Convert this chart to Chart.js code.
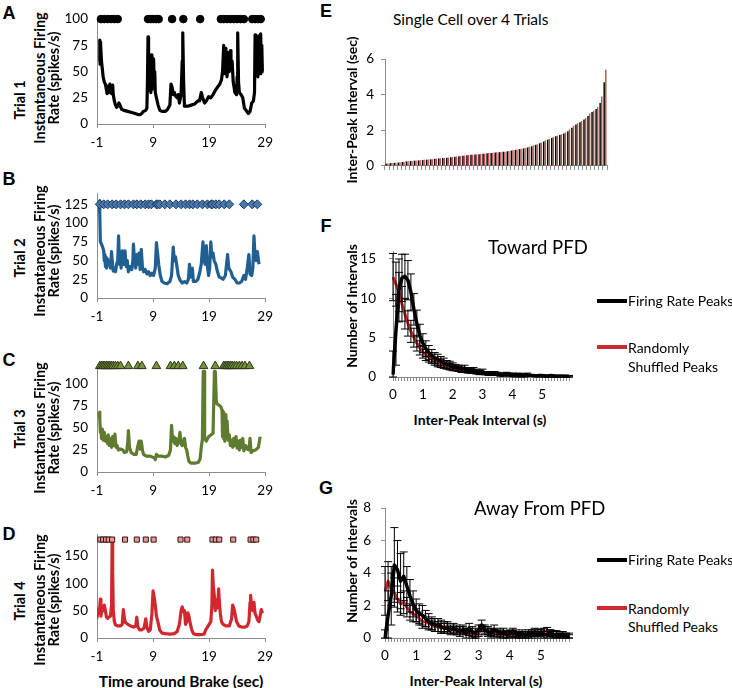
<!DOCTYPE html>
<html>
<head>
<meta charset="utf-8">
<script src="https://cdn.jsdelivr.net/npm/chart.js@4.4.1/dist/chart.umd.min.js"></script>
<style>
  body { margin: 0; width: 732px; height: 688px; position: relative; overflow: hidden; background: #fff; font-family: Lato, "Open Sans", sans-serif; color: #000; }
  canvas { position: absolute; }
  .txt { position: absolute; white-space: nowrap; transform: translate(-50%, -50%); line-height: 1; }
  .left { transform: translate(0, -50%); }
  .rot { transform: translate(-50%, -50%) rotate(-90deg); }
  .bold { font-weight: bold; }
  .letter { font-family: "Liberation Sans", Arial, sans-serif; font-weight: bold; font-size: 18px; }
  .swatch { position: absolute; height: 4px; }
</style>
</head>
<body>
<script>
// ---- data: trials A-D (time around brake, s / instantaneous rate, spikes/s)
const timeTicks = [-1, 9, 19, 29];

const trial1Time = [-0.6,-0.5,-0.45,-0.4,-0.35,-0.3,-0.2,-0.1,0.1,0.3,0.5,0.7,0.8,1.0,1.1,1.3,1.4,1.6,1.8,1.9,2.1,2.3,2.5,2.7,2.9,3.1,3.4,3.8,4.5,5.2,5.8,6.3,6.8,7.3,7.7,7.9,8.0,8.1,8.2,8.3,8.4,8.5,8.6,8.7,8.8,8.9,9.0,9.1,9.2,9.3,9.4,9.6,9.9,10.2,10.6,11.2,11.6,12.0,12.2,12.4,12.6,12.8,13.0,13.3,13.5,13.7,14.0,14.2,14.3,14.45,14.6,15.2,15.8,16.4,17.0,17.3,17.6,17.9,18.2,18.5,18.9,19.3,19.7,20.1,20.5,20.9,21.2,21.4,21.6,21.7,21.8,21.9,22.0,22.1,22.2,22.4,22.6,22.8,22.9,23.1,23.3,23.6,23.9,24.0,24.1,24.25,24.4,24.7,25.0,25.3,25.6,26.0,26.3,26.6,26.9,27.1,27.2,27.3,27.4,27.5,27.6,27.7,27.8,27.9,28.0,28.1,28.2,28.3,28.4,28.5,28.7];
const trial1Rate = [60,80,57,78,58,75,60,55,45,40,38,32,29,36,30,38,31,29,37,28,22,18,16,17,20,18,14,13,12,11,10,9,9,12,13,15,40,83,35,60,32,55,30,66,33,58,35,62,38,50,30,25,18,13,12,12,14,18,38,35,28,30,27,25,28,20,28,60,87,40,17,17,18,19,22,22,30,24,20,22,26,25,28,32,35,38,42,50,75,60,48,72,52,65,45,68,50,70,55,60,40,30,28,45,87,40,30,28,25,15,13,10,12,20,22,30,85,55,80,50,78,45,84,52,70,48,86,55,75,50,50];
const trial1Peaks = [-0.3,0.3,0.9,1.5,2.1,2.7,8.1,8.6,9.1,9.6,10.0,12.4,14.4,17.4,21.1,21.6,22.2,22.8,23.4,24.0,24.6,25.2,26.7,27.2,27.7,28.2];

const trial2Time = [-0.6,-0.5,-0.4,-0.2,0.0,0.2,0.3,0.4,0.5,0.6,0.7,0.9,1.0,1.2,1.4,1.6,1.7,1.9,2.1,2.3,2.5,2.7,2.85,3.0,3.2,3.3,3.5,3.7,3.9,4.0,4.2,4.4,4.6,4.9,5.2,5.4,5.5,5.7,5.9,6.1,6.3,6.5,6.7,6.9,7.1,7.3,7.6,7.9,8.2,8.5,8.8,9.1,9.4,9.6,9.8,10.0,10.3,10.6,11.0,11.5,12.0,12.3,12.6,12.8,13.0,13.2,13.5,13.8,14.2,14.6,15.0,15.3,15.5,15.7,16.0,16.2,16.6,17.0,17.3,17.6,17.9,18.1,18.3,18.5,18.7,18.9,19.1,19.3,19.5,19.7,19.9,20.2,20.5,20.8,21.1,21.5,21.9,22.3,22.5,22.9,23.2,23.6,24.0,24.4,24.8,25.2,25.5,25.8,26.1,26.3,26.6,26.8,27.0,27.2,27.4,27.6,27.9];
const trial2Rate = [130,110,75,72,68,63,50,58,42,55,40,52,44,48,40,62,50,36,40,35,45,50,83,45,60,40,63,45,55,63,42,50,35,42,38,50,72,48,40,58,45,60,38,65,42,35,38,32,35,30,33,30,40,74,60,45,30,22,20,19,22,30,68,50,55,45,30,24,20,22,20,25,45,28,40,22,22,25,33,45,75,50,45,70,42,30,40,75,55,60,50,45,35,28,27,25,30,58,40,35,28,25,20,20,22,30,25,40,58,32,30,40,83,55,50,62,45];
const trial2Peaks = [-0.5,0.2,0.9,1.7,2.4,3.2,3.9,4.6,5.5,6.1,6.8,7.6,8.2,8.7,9.6,9.8,10.2,11.1,12.0,13.1,14.0,14.8,15.5,16.1,16.9,17.8,18.7,19.4,19.6,20.2,20.8,21.7,22.6,25.2,26.7,27.6];

const trial3Time = [-0.6,-0.5,-0.4,-0.3,-0.2,0.0,0.1,0.3,0.5,0.7,0.9,1.0,1.2,1.4,1.6,1.8,2.0,2.2,2.4,2.6,2.8,3.2,3.6,3.9,4.3,4.5,4.6,4.8,5.1,5.5,6.0,6.3,6.5,6.7,6.9,7.1,7.3,7.8,8.5,9.2,9.4,9.6,9.9,10.5,11.2,11.8,12.1,12.3,12.5,12.7,12.9,13.1,13.3,13.6,13.8,14.0,14.2,14.4,14.6,14.8,15.0,15.2,15.4,15.8,16.5,17.1,17.4,17.6,17.8,17.95,18.1,18.2,18.5,18.9,19.3,19.7,19.95,20.1,20.3,20.7,21.1,21.3,21.4,21.5,21.6,21.7,21.8,21.9,22.0,22.2,22.4,22.6,22.8,23.0,23.2,23.4,23.6,23.8,24.0,24.2,24.4,24.6,24.8,25.0,25.2,25.5,25.8,26.1,26.3,26.5,26.8,27.3,27.8,28.1];
const trial3Rate = [68,60,45,50,38,48,36,45,35,40,32,42,30,38,28,40,30,43,28,30,25,26,25,22,23,35,47,28,22,20,20,30,35,26,35,25,20,18,18,16,14,20,18,18,17,19,25,53,35,40,32,38,30,35,45,32,30,35,38,28,25,18,12,10,10,11,15,28,37,114,114,38,35,40,42,44,114,114,78,76,74,70,40,68,38,62,35,65,40,58,36,42,30,36,28,38,30,40,27,35,25,36,28,38,24,30,26,25,38,22,24,25,28,40];
const trial3Peaks = [-0.5,-0.2,0.1,0.4,0.7,1.0,1.3,1.6,1.9,2.3,2.7,3.2,4.6,6.3,7.0,9.6,12.1,12.8,13.5,14.3,18.0,20.1,21.6,21.9,22.2,22.5,22.8,23.1,23.5,23.9,24.4,24.9,25.4,26.2];

const trial4Time = [-1.0,-0.8,-0.6,-0.4,-0.3,-0.1,0.1,0.3,0.5,0.7,0.9,1.1,1.4,1.6,1.7,1.8,1.9,2.1,2.3,2.7,3.2,3.5,3.7,3.9,4.1,4.5,5.0,5.5,5.9,6.1,6.3,6.6,7.0,7.4,7.7,7.9,8.2,8.5,8.8,9.0,9.2,9.4,9.6,9.9,10.2,10.6,11.2,12.0,12.8,13.3,13.7,14.0,14.2,14.4,14.6,14.8,15.0,15.2,15.4,15.6,15.9,16.2,16.8,17.5,18.1,18.4,18.7,19.0,19.3,19.5,19.6,19.75,19.9,20.1,20.3,20.5,20.7,20.8,21.0,21.2,21.5,22.0,22.6,23.0,23.2,23.4,23.6,23.9,24.3,24.8,25.4,25.8,26.1,26.3,26.4,26.6,26.8,27.0,27.2,27.4,27.7,27.9,28.1,28.3,28.5];
const trial4Rate = [36,53,45,71,40,55,50,60,50,38,36,38,40,60,180,120,50,30,24,22,22,25,52,35,28,25,22,20,22,38,20,15,15,18,35,20,12,15,45,86,75,60,40,28,14,9,8,7,8,12,25,50,57,48,50,25,30,46,40,28,15,8,6,6,7,15,20,25,30,60,124,95,80,50,70,55,90,70,45,30,25,22,22,35,60,55,45,30,22,20,20,22,30,65,78,55,50,65,45,40,32,30,40,52,45];
const trial4Peaks = [-0.4,0.1,0.6,1.1,1.7,4.0,6.1,7.7,9.1,13.9,15.1,19.6,20.2,20.8,23.3,26.4,26.9,27.4];

// ---- data: E, sorted inter-peak intervals (sec)
const cellIntervalsObs = [0.12,0.15,0.17,0.19,0.22,0.25,0.27,0.29,0.31,0.33,0.35,0.37,0.39,0.42,0.44,0.46,0.48,0.52,0.54,0.57,0.6,0.62,0.64,0.66,0.68,0.71,0.73,0.75,0.77,0.79,0.82,0.86,0.9,0.94,0.98,1.03,1.1,1.18,1.27,1.37,1.47,1.57,1.66,1.74,1.82,1.95,2.15,2.33,2.45,2.6,2.8,3.03,3.2,3.54,4.7];
const cellIntervalsShuf = [0.14,0.16,0.18,0.21,0.23,0.26,0.28,0.3,0.32,0.34,0.36,0.38,0.41,0.43,0.45,0.47,0.5,0.53,0.56,0.58,0.61,0.63,0.65,0.67,0.69,0.72,0.74,0.76,0.78,0.8,0.84,0.88,0.92,0.96,1.0,1.07,1.14,1.22,1.32,1.42,1.52,1.62,1.7,1.78,1.88,2.05,2.25,2.4,2.52,2.69,2.95,3.1,3.3,3.9,5.4];
const cellTicks = [0, 2, 4, 6];

// ---- data: F and G, inter-peak interval histograms (0.1 s bins)
const intervalBins = [0,0.1,0.2,0.3,0.4,0.5,0.6,0.7,0.8,0.9,1,1.1,1.2,1.3,1.4,1.5,1.6,1.7,1.8,1.9,2,2.1,2.2,2.3,2.4,2.5,2.6,2.7,2.8,2.9,3,3.1,3.2,3.3,3.4,3.5,3.6,3.7,3.8,3.9,4,4.1,4.2,4.3,4.4,4.5,4.6,4.7,4.8,4.9,5,5.1,5.2,5.3,5.4,5.5,5.6,5.7,5.8,5.9];
const intervalTickLabels = ['0', '1', '2', '3', '4', '5'];

const towardObs = [0.3,6.0,11.0,12.6,12.8,12.3,10.8,8.6,6.8,5.3,4.3,3.6,3.1,2.7,2.4,2.2,2.0,1.8,1.6,1.5,1.3,1.2,1.1,1.0,1.1,0.9,0.8,0.9,0.7,0.6,0.7,0.5,0.5,0.4,0.5,0.4,0.3,0.3,0.4,0.3,0.3,0.2,0.3,0.2,0.2,0.3,0.2,0.2,0.1,0.2,0.2,0.1,0.1,0.2,0.1,0.1,0.1,0.1,0.1,0.1];
const towardObsErr = [3.0,4.5,4.0,3.0,2.8,2.5,2.3,2.0,1.7,1.4,1.2,1.0,0.9,0.8,0.7,0.7,0.6,0.6,0.5,0.5,0.5,0.4,0.4,0.4,0.4,0.3,0.3,0.3,0.3,0.3,0.3,0.2,0.2,0.2,0.2,0.2,0.2,0.2,0.2,0.2,0.2,0.2,0.2,0.2,0.2,0.2,0.1,0.1,0.1,0.1,0.1,0.1,0.1,0.1,0.1,0.1,0.1,0.1,0.1,0.1];
const towardShuf = [12.7,11.8,10.8,9.3,8.0,6.8,5.8,5.0,4.3,3.7,3.2,2.8,2.5,2.3,2.0,1.8,1.7,1.5,1.4,1.3,1.2,1.1,1.0,0.9,0.9,0.8,0.7,0.7,0.6,0.6,0.5,0.5,0.4,0.4,0.4,0.3,0.3,0.3,0.3,0.3,0.3,0.2,0.3,0.2,0.2,0.2,0.2,0.2,0.2,0.1,0.2,0.1,0.1,0.1,0.1,0.1,0.1,0.1,0.05,0.05];
const towardShufErr = [3.0,2.8,2.5,2.2,1.9,1.6,1.4,1.2,1.0,0.9,0.8,0.7,0.6,0.6,0.5,0.5,0.5,0.4,0.4,0.4,0.3,0.3,0.3,0.3,0.3,0.3,0.2,0.2,0.2,0.2,0.2,0.2,0.2,0.2,0.2,0.1,0.1,0.1,0.1,0.1,0.1,0.1,0.1,0.1,0.1,0.1,0.1,0.1,0.1,0.1,0.1,0.1,0.1,0.1,0.1,0.1,0.1,0.1,0.1,0.1];

const awayObs = [0.0,1.4,2.6,4.5,4.2,3.5,3.8,3.2,2.6,2.1,1.7,1.5,1.4,1.2,1.0,0.9,0.8,0.8,0.7,0.6,0.6,0.5,0.6,0.5,0.4,0.5,0.3,0.6,0.4,0.3,0.5,0.8,0.5,0.4,0.3,0.5,0.4,0.3,0.4,0.2,0.3,0.4,0.3,0.2,0.3,0.2,0.3,0.2,0.3,0.2,0.3,0.2,0.2,0.3,0.2,0.2,0.1,0.2,0.1,0.1];
const awayObsErr = [0.5,1.5,1.8,2.3,1.8,1.7,1.5,1.2,1.0,0.8,0.7,0.6,0.6,0.5,0.5,0.4,0.4,0.4,0.4,0.3,0.3,0.3,0.3,0.3,0.3,0.3,0.3,0.3,0.3,0.3,0.3,0.3,0.3,0.3,0.3,0.3,0.2,0.2,0.2,0.2,0.2,0.2,0.2,0.2,0.2,0.2,0.2,0.2,0.2,0.2,0.2,0.2,0.2,0.2,0.2,0.2,0.2,0.2,0.2,0.2];
const awayShuf = [2.9,3.5,3.0,2.8,2.4,2.1,2.2,1.9,1.6,1.5,1.4,1.2,1.0,1.0,0.9,0.8,0.7,0.7,0.6,0.7,0.7,0.5,0.5,0.4,0.5,0.5,0.4,0.35,0.2,0.15,0.3,0.6,0.5,0.4,0.35,0.3,0.25,0.2,0.2,0.25,0.2,0.25,0.15,0.15,0.2,0.2,0.2,0.3,0.4,0.35,0.35,0.4,0.45,0.3,0.25,0.25,0.2,0.2,0.15,0.1];
const awayShufErr = [1.5,1.2,1.0,0.9,0.8,0.7,0.7,0.6,0.5,0.5,0.4,0.4,0.4,0.3,0.3,0.3,0.3,0.3,0.3,0.3,0.3,0.2,0.2,0.2,0.2,0.2,0.2,0.2,0.2,0.2,0.2,0.2,0.2,0.2,0.2,0.2,0.2,0.2,0.2,0.2,0.2,0.2,0.2,0.2,0.2,0.2,0.2,0.2,0.2,0.2,0.2,0.2,0.2,0.2,0.2,0.2,0.1,0.1,0.1,0.1];

// ---- styling
const axisGray = '#8c8c8c';
const tickFont = { family: 'Lato', size: 13.5 };
const shuffledRed = '#cc2a30';

function makeCanvas(area, yW, xH, padTop, padRight) {
  const c = document.createElement('canvas');
  const w = yW + (area.r - area.l) + padRight;
  const h = padTop + (area.b - area.t) + xH;
  c.width = w; c.height = h;
  c.style.left = (area.l - yW) + 'px';
  c.style.top = (area.t - padTop) + 'px';
  c.style.width = w + 'px';
  c.style.height = h + 'px';
  document.body.appendChild(c);
  return c;
}

function putText(str, x, y, cls, size) {
  const d = document.createElement('div');
  d.className = 'txt ' + (cls || '');
  d.textContent = str;
  d.style.left = x + 'px';
  d.style.top = y + 'px';
  if (size) d.style.fontSize = size + 'px';
  document.body.appendChild(d);
  return d;
}

function swatch(color, x, y, w) {
  const d = document.createElement('div');
  d.className = 'swatch';
  d.style.background = color;
  d.style.left = x + 'px';
  d.style.top = (y - 2) + 'px';
  d.style.width = w + 'px';
  document.body.appendChild(d);
}

// error bars for the histogram panels, drawn through the y scale
const errorBars = {
  id: 'errorBars',
  afterDatasetsDraw(chart) {
    const ctx = chart.ctx, ys = chart.scales.y;
    chart.data.datasets.forEach((ds, di) => {
      if (!ds.errors) return;
      const meta = chart.getDatasetMeta(di);
      ctx.save();
      ctx.strokeStyle = '#000';
      ctx.lineWidth = 1;
      meta.data.forEach((pt, i) => {
        const e = ds.errors[i];
        if (!e) return;
        const top = ys.getPixelForValue(ds.data[i] + e);
        const bot = ys.getPixelForValue(Math.max(0, ds.data[i] - e));
        ctx.beginPath();
        ctx.moveTo(pt.x, top); ctx.lineTo(pt.x, bot);
        ctx.moveTo(pt.x - 4, top); ctx.lineTo(pt.x + 4, top);
        ctx.moveTo(pt.x - 4, bot); ctx.lineTo(pt.x + 4, bot);
        ctx.stroke();
      });
      ctx.restore();
    });
  }
};

function trialPanel(area, times, rates, peaks, peakLevel, yMax, yTicks, color, marker) {
  const canvas = makeCanvas(area, 42, 30, 10, 14);
  new Chart(canvas, {
    type: 'scatter',
    data: {
      datasets: [
        {
          data: peaks.map(t => ({ x: t, y: peakLevel })),
          pointStyle: marker.style,
          pointRadius: marker.r,
          backgroundColor: marker.fill,
          borderColor: marker.stroke,
          borderWidth: 1,
          clip: false,
          order: 1
        },
        {
          data: times.map((t, i) => ({ x: t, y: rates[i] })),
          showLine: true,
          borderColor: color,
          borderWidth: 3.2,
          borderJoinStyle: 'round',
          pointRadius: 0,
          order: 2
        }
      ]
    },
    options: {
      responsive: false,
      animation: false,
      layout: { padding: { top: 10, right: 14 } },
      plugins: { legend: { display: false }, tooltip: { enabled: false } },
      scales: {
        x: {
          type: 'linear', min: -1, max: 29,
          afterBuildTicks: s => { s.ticks = timeTicks.map(v => ({ value: v })); },
          afterFit: s => { s.height = 30; },
          grid: { drawOnChartArea: false, tickLength: 4, color: axisGray },
          border: { color: axisGray },
          ticks: { font: tickFont, color: '#000', padding: 7, maxRotation: 0, autoSkip: false }
        },
        y: {
          min: 0, max: yMax,
          afterBuildTicks: s => { s.ticks = yTicks.map(v => ({ value: v })); },
          afterFit: s => { s.width = 42; },
          grid: { drawOnChartArea: false, drawTicks: false, color: axisGray },
          border: { color: axisGray },
          ticks: { font: tickFont, color: '#000', padding: 9 }
        }
      }
    }
  });
}

trialPanel({ l: 97, r: 266, t: 12, b: 124 }, trial1Time, trial1Rate, trial1Peaks, 100, 100, [0, 25, 50, 75, 100], '#000000',
  { style: 'circle', r: 3.8, fill: '#000', stroke: '#000' });
trialPanel({ l: 97, r: 266, t: 186, b: 298 }, trial2Time, trial2Rate, trial2Peaks, 125, 140, [0, 25, 50, 75, 100, 125], '#1f5f91',
  { style: 'rectRot', r: 4.5, fill: '#4a79b0', stroke: '#1b3a5e' });
trialPanel({ l: 97, r: 266, t: 359, b: 472 }, trial3Time, trial3Rate, trial3Peaks, 120, 120, [0, 25, 50, 75, 100], '#5f7b30',
  { style: 'triangle', r: 5, fill: '#76923c', stroke: '#2b3517' });
trialPanel({ l: 97, r: 266, t: 527, b: 638 }, trial4Time, trial4Rate, trial4Peaks, 180, 190, [0, 50, 100, 150], '#d0282e',
  { style: 'rect', r: 3.6, fill: '#e49a9a', stroke: '#3b1010' });

// E: sorted intervals
const cellRank = cellIntervalsObs.map((v, i) => i + 1);
new Chart(makeCanvas({ l: 385, r: 607, t: 52, b: 169 }, 30, 12, 8, 6), {
  type: 'bar',
  data: {
    labels: cellRank,
    datasets: [
      { data: cellIntervalsObs, backgroundColor: '#000000', categoryPercentage: 0.8, barPercentage: 0.9 },
      { data: cellIntervalsShuf, backgroundColor: '#c0504d', categoryPercentage: 0.8, barPercentage: 0.9 }
    ]
  },
  options: {
    responsive: false,
    animation: false,
    layout: { padding: { top: 8, right: 6 } },
    plugins: { legend: { display: false }, tooltip: { enabled: false } },
    scales: {
      x: {
        afterFit: s => { s.height = 12; },
        grid: { drawOnChartArea: false, tickLength: 4, color: axisGray },
        border: { color: axisGray },
        ticks: { autoSkip: false, maxRotation: 0, callback: () => '', padding: 0 }
      },
      y: {
        min: 0, max: 6,
        afterBuildTicks: s => { s.ticks = cellTicks.map(v => ({ value: v })); },
        afterFit: s => { s.width = 30; },
        grid: { drawOnChartArea: false, tickLength: 4, color: axisGray },
        border: { color: axisGray },
        ticks: { font: tickFont, color: '#000', padding: 7 }
      }
    }
  }
});

function histPanel(area, yW, yPad, xH, yMax, yTicks, obs, obsErr, shuf, shufErr) {
  new Chart(makeCanvas(area, yW, xH, 6, 8), {
    type: 'line',
    data: {
      labels: intervalBins,
      datasets: [
        { data: obs, errors: obsErr, borderColor: '#000', borderWidth: 3.5, pointRadius: 0, borderJoinStyle: 'round' },
        { data: shuf, errors: shufErr, borderColor: shuffledRed, borderWidth: 3, pointRadius: 0, borderJoinStyle: 'round' }
      ]
    },
    options: {
      responsive: false,
      animation: false,
      layout: { padding: { top: 6, right: 8 } },
      plugins: { legend: { display: false }, tooltip: { enabled: false } },
      scales: {
        x: {
          offset: false,
          afterFit: s => { s.height = xH; },
          grid: { drawOnChartArea: false, tickLength: 4, color: axisGray },
          border: { color: axisGray },
          ticks: {
            font: tickFont, color: '#000', padding: 6, autoSkip: false, maxRotation: 0,
            callback: (v, i) => (i % 10 === 0 ? intervalTickLabels[i / 10] : '')
          }
        },
        y: {
          min: 0, max: yMax,
          afterBuildTicks: s => { s.ticks = yTicks.map(v => ({ value: v })); },
          afterFit: s => { s.width = yW; },
          grid: { drawOnChartArea: false, tickLength: 4, color: axisGray },
          border: { color: axisGray },
          ticks: { font: tickFont, color: '#000', padding: yPad }
        }
      }
    },
    plugins: [errorBars]
  });
}

histPanel({ l: 393, r: 569, t: 236, b: 377 }, 42, 13, 28, 16, [0, 5, 10, 15], towardObs, towardObsErr, towardShuf, towardShufErr);
histPanel({ l: 385, r: 569, t: 496, b: 638 }, 32, 10, 28, 8, [0, 2, 4, 6, 8], awayObs, awayObsErr, awayShuf, awayShufErr);

// ---- text
putText('A', 9, 13, 'letter');
putText('B', 9, 179, 'letter');
putText('C', 9, 360, 'letter');
putText('D', 9, 534, 'letter');
putText('E', 326, 11, 'letter');
putText('F', 326, 226, 'letter');
putText('G', 326, 488, 'letter');

const trialTitleY = [[100, 78], [258, 251], [429, 428], [601, 600]];
trialTitleY.forEach((p, i) => {
  putText('Trial ' + (i + 1), 20, p[0], 'rot bold', 14.5);
  putText('Instantaneous Firing', 40, p[1], 'rot bold', 14.5);
  putText('Rate (spikes/s)', 54, p[1], 'rot bold', 14.5);
});
putText('Time around Brake (sec)', 181, 682, 'bold', 15.5);

putText('Single Cell over 4 Trials', 393, 20, 'left', 15.5);
putText('Inter-Peak Interval (sec)', 352, 110, 'rot bold', 14);

putText('Toward PFD', 488, 247, 'left', 18.5);
putText('Number of Intervals', 352, 306, 'rot bold', 14);
putText('Inter-Peak Interval (s)', 480, 420, 'bold', 14);

putText('Away From PFD', 474, 508, 'left', 18.5);
putText('Number of Intervals', 352, 561, 'rot bold', 14);
putText('Inter-Peak Interval (s)', 476, 681, 'bold', 14);

[[301, 348, 367], [560, 609, 627]].forEach(r => {
  swatch('#000', 597, r[0], 30);
  putText('Firing Rate Peaks', 628, r[0], 'left', 14);
  swatch(shuffledRed, 597, r[1] - 1, 30);
  putText('Randomly', 628, r[1], 'left', 14);
  putText('Shuffled Peaks', 628, r[2], 'left', 14);
});
</script>
</body>
</html>
